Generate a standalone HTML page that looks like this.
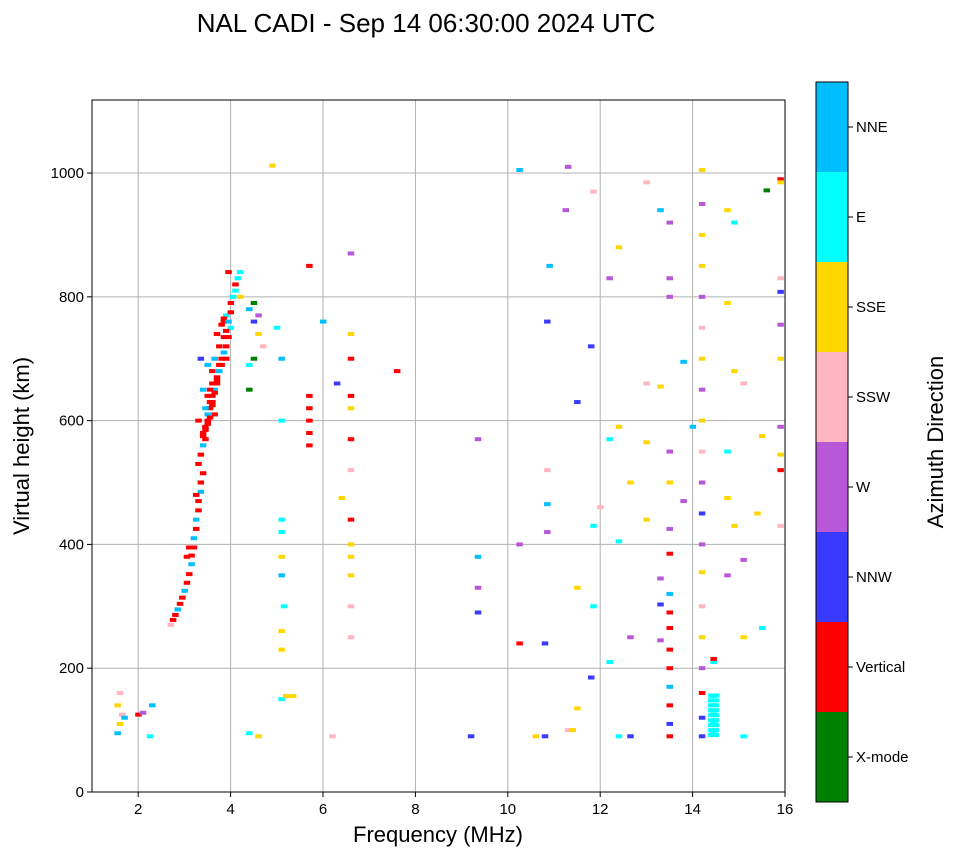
<!DOCTYPE html>
<html><head><meta charset="utf-8">
<style>
body{margin:0;background:#fff;}
svg text{font-family:"Liberation Sans","DejaVu Sans",sans-serif;}
</style></head>
<body>
<svg id="chart" width="958" height="857" xmlns="http://www.w3.org/2000/svg">
<text x="426" y="32" font-size="26" text-anchor="middle">NAL CADI - Sep 14 06:30:00 2024 UTC</text>
<g id="grid"></g>
<g id="marks"></g>
<rect x="92" y="100" width="693" height="692" fill="none" stroke="#000" stroke-width="1"/>
<g id="axes"></g>
<text x="438" y="842" font-size="22" text-anchor="middle">Frequency (MHz)</text>
<text x="29" y="446" font-size="22" text-anchor="middle" transform="rotate(-90 29 446)">Virtual height (km)</text>
<g id="cbar"></g>
<text x="943" y="442" font-size="22" text-anchor="middle" transform="rotate(-90 943 442)">Azimuth Direction</text>
</svg>
<script>
const xTicks=[2,4,6,8,10,12,14,16];
const yTicks=[0,200,400,600,800,1000];
const directions=["X-mode","Vertical","NNW","W","SSW","SSE","E","NNE"];
const dirColors=["#008000","#ff0000","#3a3aff","#b858d8","#ffb6c1","#ffd700","#00ffff","#00bfff"];
// echoes: frequency (MHz), virtual height (km), direction index
const freqs=[
2.70,2.75,2.80,2.85,2.90,2.95,3.00,3.05,3.10,3.15,
3.15,3.20,3.20,3.25,3.25,3.30,3.30,3.35,3.35,3.40,
3.30,3.35,3.40,3.40,3.45,3.50,3.50,3.55,3.60,3.60,
3.65,3.70,3.70,3.75,3.80,3.80,3.85,3.90,3.95,4.00,
3.50,3.55,3.45,3.40,3.60,3.65,3.75,3.85,3.90,4.00,
4.05,4.10,4.10,4.15,4.20,3.95,3.35,3.50,3.70,3.30,
4.40,4.50,4.60,4.40,4.50,4.70,4.50,4.20,4.40,4.60,
1.55,1.60,1.65,1.55,1.60,1.70,2.00,2.10,2.25,2.30,
5.10,5.10,5.10,5.15,5.10,5.10,5.10,5.10,5.20,5.35,
5.10,5.10,5.00,4.90,5.70,5.70,5.70,5.70,5.70,5.70,
6.00,6.30,6.60,6.60,6.60,6.60,6.60,6.60,6.60,6.60,
6.60,6.60,6.60,6.60,6.60,6.20,7.60,6.40,4.40,4.60,
9.20,9.35,9.35,9.35,9.35,10.25,10.25,10.25,10.60,10.80,
10.80,10.85,10.85,10.85,10.85,10.90,11.25,11.30,11.30,11.40,
11.50,11.50,11.50,11.80,11.80,11.85,11.85,11.85,12.00,12.20,
12.20,12.20,12.40,12.40,12.40,12.40,12.65,12.65,12.65,13.00,
13.00,13.00,13.00,13.30,13.30,13.30,13.30,13.30,13.50,13.50,
13.50,13.50,13.50,13.50,13.50,13.50,13.50,13.50,13.50,13.50,
13.50,13.50,13.50,13.50,13.80,13.80,14.00,14.20,14.20,14.20,
14.20,14.20,14.20,14.20,14.20,14.20,14.20,14.20,14.20,14.20,
14.20,14.20,14.20,14.20,14.20,14.20,14.20,14.45,14.45,14.45,
14.45,14.45,14.45,14.45,14.75,14.75,14.75,14.75,14.75,14.90,
14.90,14.90,15.10,15.10,15.10,15.10,15.50,15.50,15.40,15.90,
15.90,15.90,15.90,15.90,15.90,15.90,15.90,15.90,15.90,15.60,
3.55,3.60,3.65,3.60,3.70,3.75,3.65,3.55,3.50,3.45,
3.80,3.85,3.90,3.95,4.00,3.85,3.90,3.40,3.45,3.25,
14.40,14.50,14.40,14.50,14.40,14.50,14.40,14.50,14.40,14.50,
14.40,14.50,14.40,14.50,14.40,14.50,14.40,14.50,3.10,3.05];
const heights=[
270,278,286,295,304,314,325,338,352,368,
382,395,410,425,440,455,470,485,500,515,
530,545,560,575,590,600,610,620,630,640,
650,660,670,680,690,700,710,720,735,750,
640,630,620,650,680,700,720,760,770,790,
800,810,820,830,840,840,700,690,740,600,
650,700,740,780,760,720,790,800,690,770,
95,110,125,140,160,120,125,128,90,140,
150,230,260,300,350,380,420,440,155,155,
600,700,750,1012,560,580,600,620,640,850,
760,660,250,300,350,380,400,440,520,570,
620,640,700,740,870,90,680,475,95,90,
90,380,330,290,570,240,400,1005,90,90,
240,420,465,520,760,850,940,1010,100,100,
135,330,630,720,185,300,430,970,460,210,
570,830,90,405,590,880,250,500,90,440,
565,660,985,345,303,245,940,655,90,110,
140,170,200,230,265,290,320,385,425,550,
800,830,920,500,695,470,590,90,120,160,
200,250,300,355,400,450,500,550,600,650,
700,750,800,850,900,950,1005,95,110,125,
140,155,210,215,350,475,550,790,940,430,
920,680,660,375,250,90,575,265,450,520,
545,590,755,808,830,990,985,430,700,972,
650,660,645,625,665,690,610,605,595,585,
755,765,745,760,775,735,700,580,570,480,
92,92,100,100,108,108,116,116,124,124,
132,132,140,140,148,148,156,156,395,380];
const colors=[
4,1,1,7,1,1,7,1,1,7,
1,1,7,1,7,1,1,7,1,1,
1,1,7,1,1,1,7,1,1,1,
7,1,1,7,1,1,7,1,1,6,
1,1,7,7,1,7,1,1,6,1,
6,6,1,6,6,1,2,7,1,1,
0,0,5,7,2,4,0,5,6,3,
7,5,4,5,4,7,1,3,6,7,
6,5,5,6,7,5,6,6,5,5,
6,7,6,5,1,1,1,1,1,1,
7,2,4,4,5,5,5,1,4,1,
5,1,1,5,3,4,1,5,6,5,
2,7,3,2,3,1,3,7,5,2,
2,3,7,4,2,7,3,3,4,5,
5,5,2,2,2,6,6,4,4,6,
6,3,6,6,5,5,3,5,2,5,
5,4,4,3,2,3,7,5,1,2,
1,7,1,1,1,1,7,1,3,3,
3,3,3,5,7,3,7,2,2,1,
3,5,4,5,3,2,3,4,5,3,
5,4,3,5,5,3,5,6,6,6,
6,6,6,1,3,5,6,5,5,5,
6,5,4,3,5,6,5,6,5,1,
5,3,3,2,4,1,5,4,5,0,
1,1,1,1,1,1,1,1,1,1,
1,1,1,7,1,1,1,1,1,1,
6,6,6,6,6,6,6,6,6,6,
6,6,6,6,6,6,6,6,1,1];

const X0=92,X1=785,Y0=792,Y1=100,XMIN=1,XMAX=16,YMIN=0,YMAX=1118;
const xs=f=>X0+(f-XMIN)/(XMAX-XMIN)*(X1-X0);
const ys=h=>Y0-(h-YMIN)/(YMAX-YMIN)*(Y0-Y1);
const NS="http://www.w3.org/2000/svg";
function mk(tag,attrs,parent){const e=document.createElementNS(NS,tag);for(const k in attrs)e.setAttribute(k,attrs[k]);parent.appendChild(e);return e;}
const grid=document.getElementById('grid'),axes=document.getElementById('axes'),marks=document.getElementById('marks'),cbar=document.getElementById('cbar');
xTicks.forEach(t=>{const x=xs(t);
 if(t<XMAX){const g=mk('line',{x1:x,x2:x,y1:Y1,y2:Y0,stroke:'#b0b0b0','stroke-width':1},grid);
 
 }
 mk('line',{x1:x,x2:x,y1:Y0,y2:Y0+5,stroke:'#000'},axes);
 const l=mk('text',{x:x,y:Y0+22,'font-size':15,'text-anchor':'middle'},axes);l.textContent=t;
 
 });
yTicks.forEach(t=>{const y=ys(t);
 const g=mk('line',{x1:X0,x2:X1,y1:y,y2:y,stroke:'#b0b0b0','stroke-width':1},grid);
 
 
 mk('line',{x1:X0-5,x2:X0,y1:y,y2:y,stroke:'#000'},axes);
 const l=mk('text',{x:X0-8,y:y+5,'font-size':15,'text-anchor':'end'},axes);l.textContent=t;
 
 });
const n=Math.min(freqs.length,heights.length,colors.length);
for(let i=0;i<n;i++){
 const c=colors[i]|0;
 const r=mk('rect',{x:xs(freqs[i])-3,y:ys(heights[i])-2,width:6.5,height:4,fill:dirColors[c]},marks);
 
 }
const CX=816,CW=32,CT=82,CB=802,seg=(CB-CT)/directions.length;
directions.forEach((d,i)=>{const y=CB-(i+1)*seg;
 const r=mk('rect',{x:CX,y:y,width:CW,height:seg,fill:dirColors[i]},cbar);
 
 
 mk('line',{x1:CX+CW,x2:CX+CW+5,y1:y+seg/2,y2:y+seg/2,stroke:'#000'},cbar);
 const l=mk('text',{x:CX+CW+8,y:y+seg/2+5,'font-size':15},cbar);l.textContent=d;
 
 });
mk('rect',{x:CX,y:CT,width:CW,height:CB-CT,fill:'none',stroke:'#000'},cbar);
</script>
</body></html>
